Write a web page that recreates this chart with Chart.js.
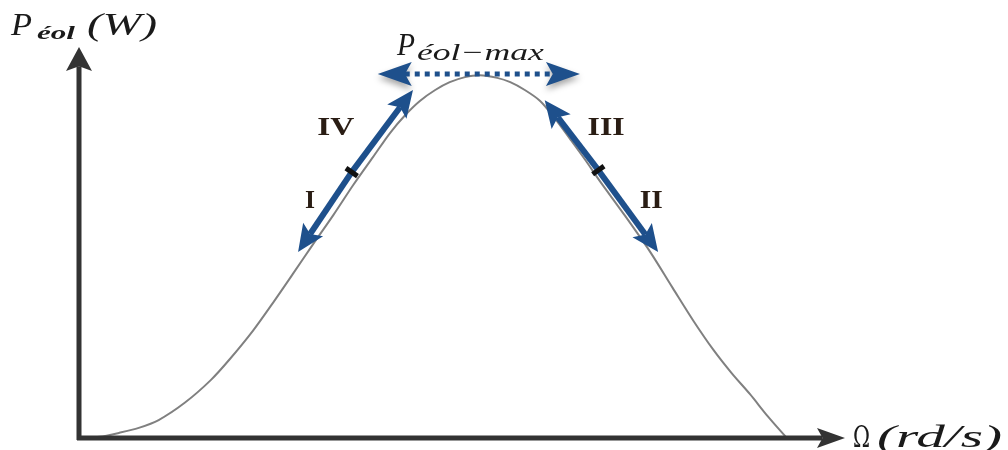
<!DOCTYPE html>
<html>
<head>
<meta charset="utf-8">
<script src="https://cdn.jsdelivr.net/npm/chart.js@4"></script>
<style>
  html, body { margin: 0; padding: 0; background: #fff; }
  #wrap { width: 1008px; height: 450px; }
</style>
</head>
<body>
<div id="wrap"><canvas id="powerChart"></canvas></div>
<script>
// power curve P(Ω), arbitrary units (0..100 on both axes)
const omega = [0, 2.7, 5.2, 7.8, 10.4, 13.8, 17.2, 19.7, 22.7, 25.3, 27.9, 30.5, 33.2, 35.8,
  38.4, 40.6, 42.6, 44.5, 46.5, 48.4, 50.4, 52.3, 54.6, 56.3, 58.2, 60.2, 62.1, 64.1, 66.1,
  68.0, 71.3, 74.5, 77.5, 80.2, 82.8, 85.2, 87.6, 89.9, 92.4];
const power = [0, 0.3, 1.3, 2.6, 4.6, 9.0, 14.8, 20.2, 27.4, 34.5, 41.9, 49.4, 57.0, 64.7,
  71.9, 78.0, 82.6, 86.2, 89.0, 91.0, 92.3, 92.8, 92.1, 91.0, 89.0, 86.2, 81.8, 76.5, 71.1,
  65.7, 56.8, 47.8, 38.4, 30.0, 22.6, 16.6, 11.2, 5.6, 0];

// search arrows along the curve: [fromX, fromY, toX, toY]
const leftMid = [35.6, 68.0];
const rightMid = [67.8, 68.5];
const searchArrows = [
  [leftMid[0], leftMid[1], 28.6, 47.6],   // I
  [leftMid[0], leftMid[1], 43.6, 89.0],   // IV
  [rightMid[0], rightMid[1], 75.6, 47.6], // II
  [rightMid[0], rightMid[1], 60.8, 86.4]  // III
];
const maxArrow = [39.0, 65.4, 93.1];      // x from, x to, y

// region labels: text, x, baseline y, width in px
const regionLabels = [
  ['IV', 31.1, 77.5, 37],
  ['I', 29.5, 58.8, 10],
  ['III', 66.4, 77.5, 37],
  ['II', 73.2, 58.8, 23]
];

const blue = 'rgb(30, 80, 140)';
const serif = '"Liberation Serif", "DejaVu Serif", serif';

const fitText = (ctx, str, x, y, font, w) => {
  ctx.font = font;
  const m = ctx.measureText(str).width;
  ctx.save();
  ctx.translate(x, y);
  ctx.scale(w / m, 1);
  ctx.fillText(str, 0, 0);
  ctx.restore();
};

const head = (ctx, x1, y1, x2, y2, len, half, color) => {
  const a = Math.atan2(y2 - y1, x2 - x1);
  const hx = x2 - Math.cos(a) * len;
  const hy = y2 - Math.sin(a) * len;
  ctx.fillStyle = color;
  ctx.beginPath();
  ctx.moveTo(x2, y2);
  ctx.lineTo(hx - Math.sin(a) * half, hy + Math.cos(a) * half);
  ctx.lineTo(x2 - Math.cos(a) * len * 0.8, y2 - Math.sin(a) * len * 0.8);
  ctx.lineTo(hx + Math.sin(a) * half, hy - Math.cos(a) * half);
  ctx.closePath();
  ctx.fill();
};

const arrow = (ctx, x1, y1, x2, y2, len, half, width, color) => {
  const a = Math.atan2(y2 - y1, x2 - x1);
  ctx.strokeStyle = color;
  ctx.lineWidth = width;
  ctx.beginPath();
  ctx.moveTo(x1, y1);
  ctx.lineTo(x2 - Math.cos(a) * len * 0.8, y2 - Math.sin(a) * len * 0.8);
  ctx.stroke();
  head(ctx, x1, y1, x2, y2, len, half, color);
};

const decorations = {
  id: 'decorations',
  afterDatasetsDraw(chart) {
    const { ctx } = chart;
    const xs = chart.scales.x, ys = chart.scales.y;
    const px = v => xs.getPixelForValue(v);
    const py = v => ys.getPixelForValue(v);
    ctx.save();

    // axes with arrow heads
    const ox = px(0), oy = py(0);
    arrow(ctx, ox, oy + 2, ox, py(100), 24, 13, 5, '#333');
    arrow(ctx, ox - 2, oy, px(100), oy, 28, 10, 5, '#333');

    // search arrows
    searchArrows.forEach(([x1, y1, x2, y2]) => {
      arrow(ctx, px(x1), py(y1), px(x2), py(y2), 27, 12, 6, blue);
    });
    // small dark marks where the arrows meet
    [leftMid, rightMid].forEach(([mx, my], i) => {
      const a = i === 0 ? Math.atan2(-1.45, 1) : Math.atan2(1.4, 1);
      const cx = px(mx), cy = py(my);
      ctx.strokeStyle = '#111';
      ctx.lineWidth = 5;
      ctx.beginPath();
      ctx.moveTo(cx - Math.sin(a) * 7, cy + Math.cos(a) * 7);
      ctx.lineTo(cx + Math.sin(a) * 7, cy - Math.cos(a) * 7);
      ctx.stroke();
    });

    // dotted maximum-power arrow
    const [mx1, mx2, my] = maxArrow;
    const yM = py(my);
    ctx.save();
    ctx.shadowColor = 'rgba(0,0,0,0.35)';
    ctx.shadowBlur = 6;
    ctx.shadowOffsetY = 4;
    head(ctx, px(mx2), yM, px(mx1), yM, 34, 12, blue);
    head(ctx, px(mx1), yM, px(mx2), yM, 34, 12, blue);
    ctx.restore();
    ctx.strokeStyle = blue;
    ctx.lineWidth = 5;
    ctx.setLineDash([5, 5]);
    ctx.beginPath();
    ctx.moveTo(px(mx1) + 27, yM);
    ctx.lineTo(px(mx2) - 27, yM);
    ctx.stroke();
    ctx.setLineDash([]);

    // region labels
    ctx.fillStyle = '#2a1d14';
    regionLabels.forEach(([t, x, y, w]) => {
      fitText(ctx, t, px(x), py(y), 'bold 26px ' + serif, w);
    });

    // P_éol-max label
    ctx.fillStyle = '#1a1a1a';
    fitText(ctx, 'P', px(41.5), py(98.0), 'italic 31px ' + serif, 18);
    fitText(ctx, 'éol−max', px(41.5) + 20, py(98.0) + 5, 'italic 23px ' + serif, 127);

    // axis titles
    fitText(ctx, 'P', 11, 35, 'italic 31px ' + serif, 21);
    fitText(ctx, 'éol', 37, 39, 'bold italic 19px ' + serif, 38);
    fitText(ctx, '(W)', 87, 35, 'italic 31px ' + serif, 70);
    fitText(ctx, 'Ω', 853, 447, '29px "DejaVu Serif", serif', 17);
    fitText(ctx, '(rd/s)', 877, 447, 'italic 31px ' + serif, 125);

    ctx.restore();
  }
};

new Chart(document.getElementById('powerChart'), {
  type: 'scatter',
  data: {
    datasets: [{
      data: omega.map((w, i) => ({ x: w, y: power[i] })),
      showLine: true,
      borderColor: '#808080',
      borderWidth: 2,
      pointRadius: 0,
      tension: 0.3,
      clip: false
    }]
  },
  options: {
    responsive: true,
    maintainAspectRatio: false,
    animation: false,
    layout: { padding: { left: 79, right: 163, top: 47, bottom: 12 } },
    scales: {
      x: { type: 'linear', min: 0, max: 100, display: false },
      y: { min: 0, max: 100, display: false }
    },
    plugins: { legend: { display: false }, tooltip: { enabled: false } }
  },
  plugins: [decorations]
});
</script>
</body>
</html>
